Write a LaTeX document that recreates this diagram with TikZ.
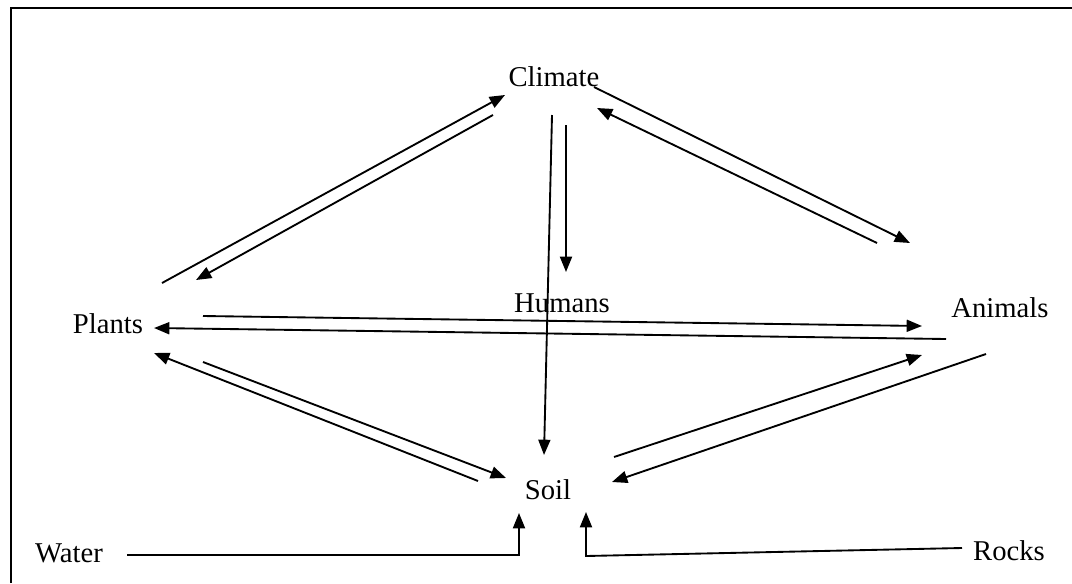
\documentclass[tikz,border=0pt]{standalone}
\usepackage{fontspec}
\setmainfont{Liberation Serif}
\usetikzlibrary{arrows.meta}
\begin{document}
\begin{tikzpicture}[x=0.75pt,y=-0.75pt,
  lbl/.style={inner sep=0pt,font=\fontsize{21.5}{25}\selectfont},
  conn/.style={line width=1.4pt,-{Triangle[length=11.5pt,width=9pt]}},
  frame/.style={line width=2.2pt}]
\useasboundingbox (0,0) rectangle (1072,583);
\draw[frame] (11,583) -- (11,8) -- (1072,8);
\node[lbl] (climate) at (554,77) {Climate};
\node[lbl] (humans) at (562,303) {Humans};
\node[lbl] (plants) at (108,324) {Plants};
\node[lbl] (animals) at (1000,308) {Animals};
\node[lbl] (soil) at (548,490) {Soil};
\node[lbl] (water) at (69,553) {Water};
\node[lbl] (rocks) at (1009,551) {Rocks};
% Plants <-> Climate
\draw[conn] ([shift={(54,-41)}]plants.center) -- ([shift={(-49,18)}]climate.center);
\draw[conn] ([shift={(-61,38)}]climate.center) -- ([shift={(88,-44)}]plants.center);
% Climate <-> Animals
\draw[conn] ([shift={(40,10)}]climate.center) -- ([shift={(-90,-65)}]animals.center);
\draw[conn] ([shift={(-123,-65)}]animals.center) -- ([shift={(43,31)}]climate.center);
% Climate -> Humans, Climate -> Soil
\draw[conn] ([shift={(12,48)}]climate.center) -- ([shift={(4,-31)}]humans.center);
\draw[conn] ([shift={(-2,38)}]climate.center) -- ([shift={(-4,-35)}]soil.center);
% Plants <-> Animals
\draw[conn] ([shift={(95,-8)}]plants.center) -- ([shift={(-78,18)}]animals.center);
\draw[conn] ([shift={(-54,31)}]animals.center) -- ([shift={(46,4)}]plants.center);
% Plants <-> Soil
\draw[conn] ([shift={(-70,-9)}]soil.center) -- ([shift={(46,29)}]plants.center);
\draw[conn] ([shift={(95,38)}]plants.center) -- ([shift={(-42,-12)}]soil.center);
% Soil <-> Animals
\draw[conn] ([shift={(66,-33)}]soil.center) -- ([shift={(-78,47)}]animals.center);
\draw[conn] ([shift={(-14,46)}]animals.center) -- ([shift={(64,-8)}]soil.center);
% Water, Rocks -> Soil
\draw[conn] ([shift={(58,2)}]water.center) -| ([shift={(-29,23)}]soil.center);
\draw[conn] ([shift={(-47,-3)}]rocks.center) -- ([shift={(38,66)}]soil.center) -- ([shift={(38,22)}]soil.center);
\end{tikzpicture}
\end{document}
